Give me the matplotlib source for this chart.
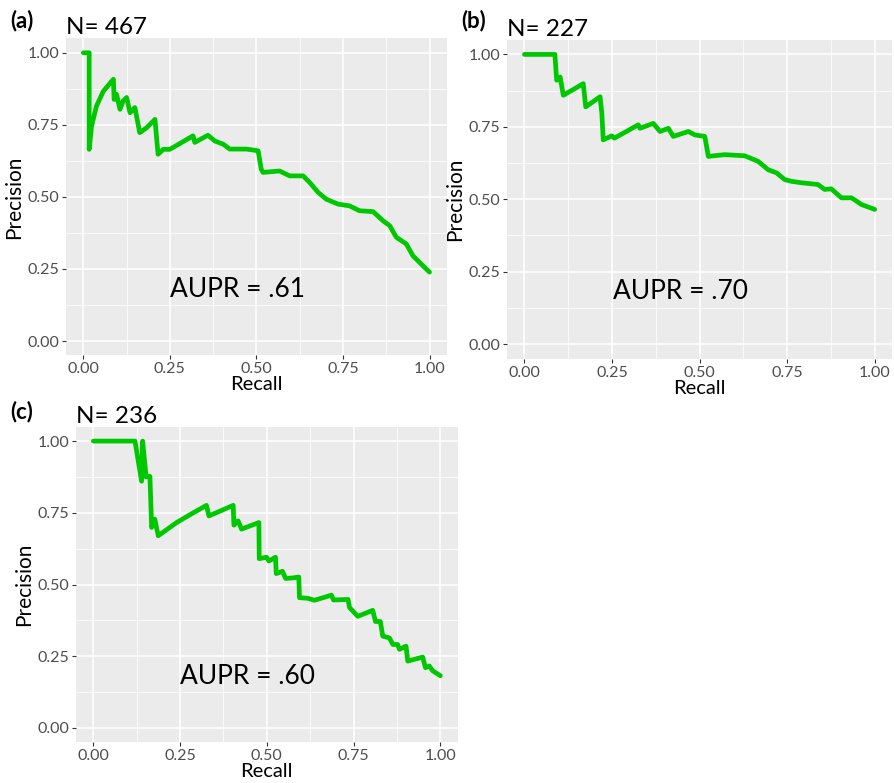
import matplotlib
matplotlib.use("Agg")
import matplotlib.pyplot as plt
from matplotlib.ticker import MultipleLocator

# ---------------------------------------------------------------------------
# Data
# ---------------------------------------------------------------------------
recall_a = [0.0, 0.017, 0.017, 0.024, 0.038, 0.058, 0.087, 0.089, 0.096, 0.106, 0.115,
            0.125, 0.135, 0.149, 0.163, 0.183, 0.207, 0.216, 0.231, 0.25, 0.317, 0.322,
            0.36, 0.38, 0.404, 0.423, 0.471, 0.505, 0.514, 0.519, 0.567, 0.596, 0.635,
            0.654, 0.678, 0.702, 0.736, 0.769, 0.798, 0.837, 0.865, 0.885, 0.904, 0.933,
            0.952, 0.971, 1.0]
precision_a = [1.0, 1.0, 0.665, 0.746, 0.815, 0.867, 0.908, 0.838, 0.856, 0.804, 0.833,
               0.845, 0.792, 0.81, 0.723, 0.74, 0.769, 0.648, 0.665, 0.665, 0.712, 0.689,
               0.714, 0.694, 0.683, 0.666, 0.666, 0.66, 0.596, 0.585, 0.59, 0.573, 0.573,
               0.55, 0.516, 0.492, 0.475, 0.469, 0.452, 0.449, 0.418, 0.4, 0.36, 0.337,
               0.296, 0.273, 0.239]

recall_b = [0.0, 0.087, 0.092, 0.102, 0.111, 0.168, 0.175, 0.216, 0.221, 0.225, 0.249,
            0.257, 0.325, 0.33, 0.368, 0.387, 0.411, 0.425, 0.468, 0.487, 0.515, 0.525,
            0.572, 0.629, 0.667, 0.696, 0.72, 0.743, 0.762, 0.791, 0.838, 0.857, 0.876,
            0.905, 0.934, 0.962, 1.0]
precision_b = [1.0, 1.0, 0.911, 0.922, 0.859, 0.899, 0.819, 0.854, 0.797, 0.705, 0.719,
               0.711, 0.757, 0.745, 0.762, 0.734, 0.745, 0.717, 0.734, 0.722, 0.717, 0.648,
               0.654, 0.65, 0.631, 0.602, 0.591, 0.568, 0.562, 0.557, 0.551, 0.534, 0.536,
               0.505, 0.505, 0.482, 0.465]

recall_c = [0.0, 0.12, 0.139, 0.142, 0.152, 0.163, 0.168, 0.177, 0.187, 0.24, 0.288,
            0.326, 0.333, 0.403, 0.405, 0.417, 0.427, 0.477, 0.478, 0.499, 0.506, 0.525,
            0.527, 0.545, 0.554, 0.575, 0.592, 0.594, 0.618, 0.637, 0.662, 0.686, 0.692,
            0.734, 0.738, 0.762, 0.805, 0.813, 0.827, 0.834, 0.853, 0.863, 0.877, 0.882,
            0.901, 0.906, 0.949, 0.957, 0.968, 0.978, 1.0]
precision_c = [1.0, 1.0, 0.86, 1.0, 0.875, 0.877, 0.699, 0.728, 0.67, 0.716, 0.75,
               0.776, 0.739, 0.776, 0.707, 0.722, 0.693, 0.716, 0.59, 0.595, 0.582, 0.595,
               0.538, 0.546, 0.521, 0.523, 0.526, 0.454, 0.452, 0.445, 0.454, 0.463, 0.446,
               0.448, 0.42, 0.389, 0.41, 0.371, 0.371, 0.32, 0.314, 0.291, 0.291, 0.274,
               0.285, 0.233, 0.247, 0.21, 0.216, 0.199, 0.182]

panel_tags = ["(a)", "(b)", "(c)"]
panel_n = [467, 227, 236]
panel_aupr = [".61", ".70", ".60"]

ticks = [0.0, 0.25, 0.5, 0.75, 1.0]
tick_labels = ["0.00", "0.25", "0.50", "0.75", "1.00"]

# ---------------------------------------------------------------------------
# Style
# ---------------------------------------------------------------------------
_GREEN = "#00C800"
_FONT = ["Lato", "DejaVu Sans"]

plt.rcParams.update({
    "font.family": _FONT,
})

# axes rectangles [left, bottom, width, height] in figure fractions
_RECTS = [
    [0.0738, 0.546, 0.426, 0.405],
    [0.567, 0.542, 0.431, 0.407],
    [0.085, 0.052, 0.427, 0.403],
]


def _gg_axes(ax):
    ax.set_facecolor("#EBEBEB")
    for s in ax.spines.values():
        s.set_visible(False)
    ax.set_xlim(-0.05, 1.05)
    ax.set_ylim(-0.05, 1.05)
    ax.set_xticks(ticks, tick_labels)
    ax.set_yticks(ticks, tick_labels)
    ax.xaxis.set_minor_locator(MultipleLocator(0.125))
    ax.yaxis.set_minor_locator(MultipleLocator(0.125))
    ax.grid(True, which="major", color="white", lw=1.1)
    ax.grid(True, which="minor", color="white", lw=0.55)
    ax.set_axisbelow(True)
    ax.tick_params(which="major", length=3, width=0.8, color="#333333",
                   labelcolor="#4D4D4D", labelsize=11.5, pad=2)
    ax.tick_params(which="minor", length=0)
    ax.set_xlabel("Recall", fontsize=14.5, labelpad=0)
    ax.set_ylabel("Precision", fontsize=15, labelpad=2)


fig = plt.figure(figsize=(8.94, 7.83), dpi=100)

series = [(recall_a, precision_a), (recall_b, precision_b), (recall_c, precision_c)]
for i, (rect, (rx, py)) in enumerate(zip(_RECTS, series)):
    ax = fig.add_axes(rect)
    _gg_axes(ax)
    ax.plot(rx, py, color=_GREEN, lw=3.4, solid_joinstyle="round", solid_capstyle="round")
    ax.text(0.445, 0.18, f"AUPR = {panel_aupr[i]}", fontsize=19, ha="center", va="center")
    ax.set_title(f"N= {panel_n[i]}", loc="left", fontsize=17.5, pad=3, x=0.0)

# panel tags
fig.text(0.011, 0.974, panel_tags[0], fontsize=16, fontweight="bold", va="center")
fig.text(0.516, 0.974, panel_tags[1], fontsize=16, fontweight="bold", va="center")
fig.text(0.011, 0.474, panel_tags[2], fontsize=16, fontweight="bold", va="center")

fig.savefig("out.png", dpi=100)
